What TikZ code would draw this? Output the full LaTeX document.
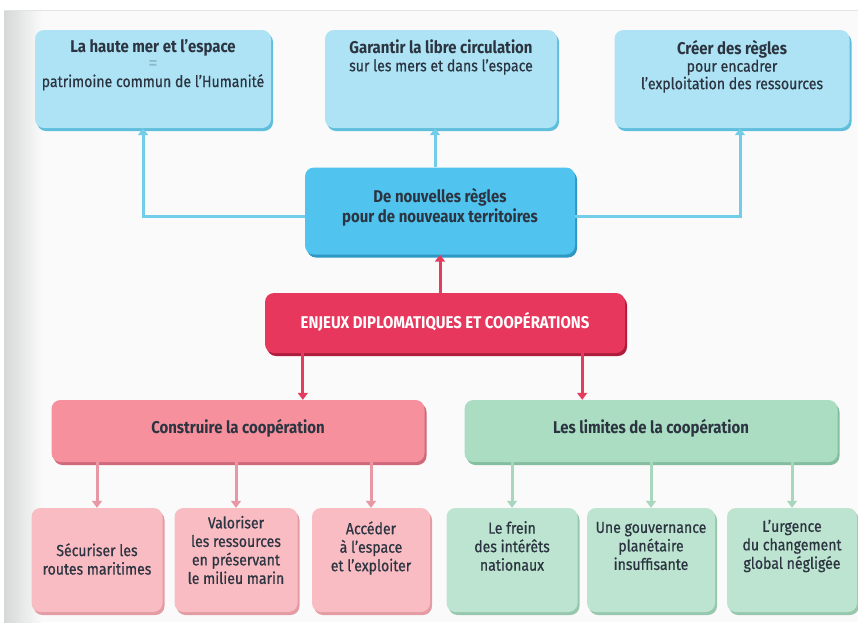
\documentclass[tikz,border=0pt]{standalone}
\usepackage{fontspec}
\setmainfont[FakeStretch=0.88]{Fira Sans}
\newfontfamily\medfont[FakeStretch=0.88,FakeBold=0.6]{Fira Sans}
\usetikzlibrary{shadows,arrows.meta}
\definecolor{txt}{HTML}{2B3440}
\definecolor{eqgrey}{HTML}{8FB8C8}
\definecolor{panel}{HTML}{FAFAFA}
\definecolor{edge}{HTML}{D6D8D8}
\definecolor{bluelight}{HTML}{ADE3F4}
\definecolor{bluelightsh}{HTML}{5FBEDB}
\definecolor{bluemid}{HTML}{50C4EE}
\definecolor{bluemidsh}{HTML}{2E98C4}
\definecolor{blueline}{HTML}{72CDE9}
\definecolor{redbox}{HTML}{E8375C}
\definecolor{redboxsh}{HTML}{AE1D3D}
\definecolor{redline}{HTML}{E23C5E}
\definecolor{pinkbox}{HTML}{F6909D}
\definecolor{pinkboxsh}{HTML}{CF6A7A}
\definecolor{pinklight}{HTML}{F9BCC3}
\definecolor{pinklightsh}{HTML}{E39BA4}
\definecolor{pinkline}{HTML}{E898A4}
\definecolor{greenbox}{HTML}{AADDC2}
\definecolor{greenboxsh}{HTML}{84BE9F}
\definecolor{greenlight}{HTML}{BDE4D0}
\definecolor{greenlightsh}{HTML}{97C8AE}
\definecolor{greenline}{HTML}{A9D7BE}

\begin{document}
\begin{tikzpicture}[x=1pt,y=-1pt,
  box/.style={rounded corners=9pt,inner sep=0pt},
  topbox/.style={box,fill=bluelight,minimum height=98pt,
    drop shadow={shadow xshift=2pt,shadow yshift=-3pt,fill=bluelightsh,opacity=1}},
  midbox/.style={box,fill=bluemid,minimum width=270pt,minimum height=87pt,
    drop shadow={shadow xshift=2pt,shadow yshift=-3pt,fill=bluemidsh,opacity=1}},
  redbx/.style={box,fill=redbox,minimum width=360pt,minimum height=60pt,
    drop shadow={shadow xshift=2pt,shadow yshift=-3pt,fill=redboxsh,opacity=1}},
  pinkbx/.style={box,fill=pinkbox,minimum width=373pt,minimum height=62pt,
    drop shadow={shadow xshift=2pt,shadow yshift=-3pt,fill=pinkboxsh,opacity=1}},
  greenbx/.style={box,fill=greenbox,minimum width=373pt,minimum height=62pt,
    drop shadow={shadow xshift=2pt,shadow yshift=-3pt,fill=greenboxsh,opacity=1}},
  pinkleaf/.style={box,fill=pinklight,minimum height=104pt,
    drop shadow={shadow xshift=2pt,shadow yshift=-3pt,fill=pinklightsh,opacity=1}},
  greenleaf/.style={box,fill=greenlight,minimum height=104pt,
    drop shadow={shadow xshift=2pt,shadow yshift=-3pt,fill=greenlightsh,opacity=1}},
  lbl/.style={align=center,text=txt,inner sep=0pt,font=\medfont\fontsize{16}{17.5}\selectfont},
  head/.style={lbl,font=\normalfont\fontsize{17}{20}\bfseries},
  leaf/.style={lbl,font=\medfont\fontsize{16}{18.5}\selectfont},
  conn/.style={line width=3pt},
  tip/.style={-{Triangle[length=7pt,width=10pt]}}]
\useasboundingbox (0,0) rectangle (858,622);
% page background
\fill[panel] (4,10) rectangle (858,622);
\shade[left color=edge,right color=panel] (4,10) rectangle (42,622);
\draw[edge!70,line width=.6pt] (4,10) -- (858,10);

% top row
\draw(153,79) node[topbox,minimum width=236pt] (A) {};
\draw(441,79) node[topbox,minimum width=232pt] (B) {};
\draw(732,79) node[topbox,minimum width=235pt] (C) {};
\node[lbl,below] at ([yshift=-9pt]A.north) {{\normalfont\fontsize{17}{17.5}\bfseries La haute mer et l’espace}\\{\color{eqgrey}\fontsize{20}{17.5}\selectfont=}\\patrimoine commun de l’Humanité};
\node[lbl,below] at ([yshift=-10pt]B.north) {{\normalfont\fontsize{17}{17.5}\bfseries Garantir la libre circulation}\\sur les mers et dans l’espace};
\node[lbl,below] at ([yshift=-10pt]C.north) {{\normalfont\fontsize{17}{17.5}\bfseries Créer des règles}\\pour encadrer\\l’exploitation des ressources};

% middle
\draw(440,211) node[midbox] (M) {};
\node[head] at ([yshift=4pt]M.center) {De nouvelles règles\\pour de nouveaux territoires};
\draw(445,323) node[redbx] (R) {};
\node[head,text=white] at ([yshift=1pt]R.center) {ENJEUX DIPLOMATIQUES ET COOPÉRATIONS};

% second row
\draw(238,431) node[pinkbx] (P) {};
\draw(651,431) node[greenbx] (G) {};
\node[head] at ([yshift=3pt]P.center) {Construire la coopération};
\node[head] at ([yshift=3pt]G.center) {Les limites de la coopération};

% leaves
\draw(97,560) node[pinkleaf,minimum width=131pt] (P1) {};
\draw(236,560) node[pinkleaf,minimum width=123pt] (P2) {};
\draw(371,560) node[pinkleaf,minimum width=118pt] (P3) {};
\draw(512,560) node[greenleaf,minimum width=131pt] (G1) {};
\draw(651,560) node[greenleaf,minimum width=128pt] (G2) {};
\draw(792,560) node[greenleaf,minimum width=130pt] (G3) {};
\node[leaf] at ([yshift=1pt]P1.center) {Sécuriser les\\routes maritimes};
\node[leaf] at ([yshift=10pt]P2.center) {Valoriser\\les ressources\\en préservant\\le milieu marin};
\node[leaf] at ([yshift=12pt]P3.center) {Accéder\\à l’espace\\et l’exploiter};
\node[leaf] at ([yshift=14pt]G1.center) {Le frein\\des intérêts\\nationaux};
\node[leaf] at ([yshift=14pt]G2.center) {Une gouvernance\\planétaire\\insuffisante};
\node[leaf] at ([yshift=14pt]G3.center) {L’urgence\\du changement\\global négligée};

% connectors
\draw[conn,blueline,tip] ([yshift=-5pt]M.west) -| ([xshift=-10pt]A.south);
\draw[conn,blueline,tip] ([yshift=-5pt]M.east) -| ([xshift=8pt]C.south);
\draw[conn,blueline,tip] ([xshift=-5pt]M.north) -- ([xshift=-5pt]M.north |- B.south);
\draw[conn,redline,tip] (R.north -| M.south) -- (M.south);
\draw[conn,redline,tip] ([xshift=38pt]R.south west) -- ([xshift=38pt]R.south west |- P.north);
\draw[conn,redline,tip] ([xshift=-43pt]R.south east) -- ([xshift=-43pt]R.south east |- G.north);
\foreach \n in {P1,P2,P3}
  \draw[conn,pinkline,tip] (P.south -| \n.north) -- (\n.north);
\foreach \n in {G1,G2,G3}
  \draw[conn,greenline,tip] (G.south -| \n.north) -- (\n.north);
\end{tikzpicture}
\end{document}
